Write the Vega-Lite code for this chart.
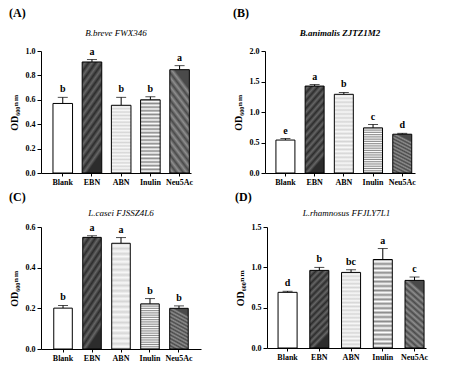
{
"$schema":"https://vega.github.io/schema/vega-lite/v6.json",
"background":"white",
"padding":{"left":9,"top":6,"right":4,"bottom":4},
"config":{
 "font":"Liberation Serif, Times New Roman, DejaVu Serif, serif",
 "view":{"stroke":null},
 "axis":{"labelFont":"Liberation Serif, Times New Roman, DejaVu Serif, serif","labelFontWeight":"bold","labelFontSize":8,"labelColor":"#000","domainColor":"#000","tickColor":"#000","grid":false,"titleFont":"Liberation Serif, Times New Roman, DejaVu Serif, serif","titleFontWeight":"bold","titleFontSize":10,"titleColor":"#000"},
 "axisX":{"ticks":true,"tickSize":3,"labelAngle":0,"labelPadding":2},
 "axisY":{"tickSize":4,"labelPadding":2,"titlePadding":6},
 "title":{"font":"Liberation Serif, Times New Roman, DejaVu Serif, serif","color":"#000"},
 "text":{"font":"Liberation Serif, Times New Roman, DejaVu Serif, serif"}
},
"datasets":{"d":[
 {"panel":"A","group":"Blank","mean":0.57,"upper":0.62,"letter":"b"},
 {"panel":"A","group":"EBN","mean":0.91,"upper":0.93,"letter":"a"},
 {"panel":"A","group":"ABN","mean":0.555,"upper":0.62,"letter":"b"},
 {"panel":"A","group":"Inulin","mean":0.60,"upper":0.625,"letter":"b"},
 {"panel":"A","group":"Neu5Ac","mean":0.847,"upper":0.88,"letter":"a"},
 {"panel":"B","group":"Blank","mean":0.54,"upper":0.565,"letter":"e"},
 {"panel":"B","group":"EBN","mean":1.425,"upper":1.45,"letter":"a"},
 {"panel":"B","group":"ABN","mean":1.29,"upper":1.32,"letter":"b"},
 {"panel":"B","group":"Inulin","mean":0.74,"upper":0.795,"letter":"c"},
 {"panel":"B","group":"Neu5Ac","mean":0.636,"upper":0.65,"letter":"d"},
 {"panel":"C","group":"Blank","mean":0.201,"upper":0.214,"letter":"b"},
 {"panel":"C","group":"EBN","mean":0.549,"upper":0.557,"letter":"a"},
 {"panel":"C","group":"ABN","mean":0.52,"upper":0.548,"letter":"a"},
 {"panel":"C","group":"Inulin","mean":0.222,"upper":0.248,"letter":"b"},
 {"panel":"C","group":"Neu5Ac","mean":0.20,"upper":0.212,"letter":"b"},
 {"panel":"D","group":"Blank","mean":0.69,"upper":0.703,"letter":"d"},
 {"panel":"D","group":"EBN","mean":0.962,"upper":0.999,"letter":"b"},
 {"panel":"D","group":"ABN","mean":0.937,"upper":0.97,"letter":"bc"},
 {"panel":"D","group":"Inulin","mean":1.097,"upper":1.233,"letter":"a"},
 {"panel":"D","group":"Neu5Ac","mean":0.838,"upper":0.88,"letter":"c"}
]},
"spacing":4,
"vconcat":[
{"hconcat":[
 {"title":{"text":"(A)","anchor":"start","frame":"bounds","fontSize":12,"fontWeight":"bold","offset":9},
  "vconcat":[{
   "width":150,"height":122,
   "title":{"text":"B.breve FWX346","fontStyle":"italic","fontWeight":"normal","fontSize":9,"frame":"group","anchor":"middle","offset":9},
   "data":{"name":"d"},
   "transform":[{"filter":"datum.panel==='A'"}],
   "encoding":{
    "x":{"field":"group","type":"nominal","sort":["Blank","EBN","ABN","Inulin","Neu5Ac"],"scale":{"paddingInner":0.33,"paddingOuter":0.233,"align":0.88},"axis":{"title":null}},
    "y":{"field":"mean","type":"quantitative","scale":{"domain":[0,1]},"axis":{"values":[0,0.2,0.4,0.6,0.8,1.0],"format":".1f","title":"OD₆₀₀ₙₘ"}}
   },
   "layer":[
    {"mark":{"type":"rule","color":"black","strokeWidth":1},"encoding":{"y2":{"field":"upper"}}},
    {"mark":{"type":"tick","orient":"horizontal","color":"black","thickness":1,"size":10},"encoding":{"y":{"field":"upper","type":"quantitative"}}},
    {"mark":{"type":"bar","stroke":"black","strokeWidth":1},"encoding":{"fill":{"condition":[
     {"test":"datum.group==='EBN'","value":{"gradient":"linear","x1":0,"y1":0,"x2":0.25,"y2":1,"stops":[{"offset":0,"color":"#2c2c2c"},{"offset":0.0417,"color":"#666666"},{"offset":0.0833,"color":"#2c2c2c"},{"offset":0.125,"color":"#666666"},{"offset":0.1667,"color":"#2c2c2c"},{"offset":0.2083,"color":"#666666"},{"offset":0.25,"color":"#2c2c2c"},{"offset":0.2917,"color":"#666666"},{"offset":0.3333,"color":"#2c2c2c"},{"offset":0.375,"color":"#666666"},{"offset":0.4167,"color":"#2c2c2c"},{"offset":0.4583,"color":"#666666"},{"offset":0.5,"color":"#2c2c2c"},{"offset":0.5417,"color":"#666666"},{"offset":0.5833,"color":"#2c2c2c"},{"offset":0.625,"color":"#666666"},{"offset":0.6667,"color":"#2c2c2c"},{"offset":0.7083,"color":"#666666"},{"offset":0.75,"color":"#2c2c2c"},{"offset":0.7917,"color":"#666666"},{"offset":0.8333,"color":"#2c2c2c"},{"offset":0.875,"color":"#666666"},{"offset":0.9167,"color":"#2c2c2c"},{"offset":0.9583,"color":"#666666"},{"offset":1,"color":"#2c2c2c"}]}},
     {"test":"datum.group==='ABN'","value":{"gradient":"linear","x1":0,"y1":0,"x2":0,"y2":1,"stops":[{"offset":0,"color":"#d6d6d6"},{"offset":0.025,"color":"#f8f8f8"},{"offset":0.05,"color":"#d6d6d6"},{"offset":0.075,"color":"#f8f8f8"},{"offset":0.1,"color":"#d6d6d6"},{"offset":0.125,"color":"#f8f8f8"},{"offset":0.15,"color":"#d6d6d6"},{"offset":0.175,"color":"#f8f8f8"},{"offset":0.2,"color":"#d6d6d6"},{"offset":0.225,"color":"#f8f8f8"},{"offset":0.25,"color":"#d6d6d6"},{"offset":0.275,"color":"#f8f8f8"},{"offset":0.3,"color":"#d6d6d6"},{"offset":0.325,"color":"#f8f8f8"},{"offset":0.35,"color":"#d6d6d6"},{"offset":0.375,"color":"#f8f8f8"},{"offset":0.4,"color":"#d6d6d6"},{"offset":0.425,"color":"#f8f8f8"},{"offset":0.45,"color":"#d6d6d6"},{"offset":0.475,"color":"#f8f8f8"},{"offset":0.5,"color":"#d6d6d6"},{"offset":0.525,"color":"#f8f8f8"},{"offset":0.55,"color":"#d6d6d6"},{"offset":0.575,"color":"#f8f8f8"},{"offset":0.6,"color":"#d6d6d6"},{"offset":0.625,"color":"#f8f8f8"},{"offset":0.65,"color":"#d6d6d6"},{"offset":0.675,"color":"#f8f8f8"},{"offset":0.7,"color":"#d6d6d6"},{"offset":0.725,"color":"#f8f8f8"},{"offset":0.75,"color":"#d6d6d6"},{"offset":0.775,"color":"#f8f8f8"},{"offset":0.8,"color":"#d6d6d6"},{"offset":0.825,"color":"#f8f8f8"},{"offset":0.85,"color":"#d6d6d6"},{"offset":0.875,"color":"#f8f8f8"},{"offset":0.9,"color":"#d6d6d6"},{"offset":0.925,"color":"#f8f8f8"},{"offset":0.95,"color":"#d6d6d6"},{"offset":0.975,"color":"#f8f8f8"},{"offset":1,"color":"#d6d6d6"}]}},
     {"test":"datum.group==='Inulin'","value":{"gradient":"linear","x1":0,"y1":0,"x2":0,"y2":1,"stops":[{"offset":0,"color":"#8a8a8a"},{"offset":0.025,"color":"#ffffff"},{"offset":0.05,"color":"#8a8a8a"},{"offset":0.075,"color":"#ffffff"},{"offset":0.1,"color":"#8a8a8a"},{"offset":0.125,"color":"#ffffff"},{"offset":0.15,"color":"#8a8a8a"},{"offset":0.175,"color":"#ffffff"},{"offset":0.2,"color":"#8a8a8a"},{"offset":0.225,"color":"#ffffff"},{"offset":0.25,"color":"#8a8a8a"},{"offset":0.275,"color":"#ffffff"},{"offset":0.3,"color":"#8a8a8a"},{"offset":0.325,"color":"#ffffff"},{"offset":0.35,"color":"#8a8a8a"},{"offset":0.375,"color":"#ffffff"},{"offset":0.4,"color":"#8a8a8a"},{"offset":0.425,"color":"#ffffff"},{"offset":0.45,"color":"#8a8a8a"},{"offset":0.475,"color":"#ffffff"},{"offset":0.5,"color":"#8a8a8a"},{"offset":0.525,"color":"#ffffff"},{"offset":0.55,"color":"#8a8a8a"},{"offset":0.575,"color":"#ffffff"},{"offset":0.6,"color":"#8a8a8a"},{"offset":0.625,"color":"#ffffff"},{"offset":0.65,"color":"#8a8a8a"},{"offset":0.675,"color":"#ffffff"},{"offset":0.7,"color":"#8a8a8a"},{"offset":0.725,"color":"#ffffff"},{"offset":0.75,"color":"#8a8a8a"},{"offset":0.775,"color":"#ffffff"},{"offset":0.8,"color":"#8a8a8a"},{"offset":0.825,"color":"#ffffff"},{"offset":0.85,"color":"#8a8a8a"},{"offset":0.875,"color":"#ffffff"},{"offset":0.9,"color":"#8a8a8a"},{"offset":0.925,"color":"#ffffff"},{"offset":0.95,"color":"#8a8a8a"},{"offset":0.975,"color":"#ffffff"},{"offset":1,"color":"#8a8a8a"}]}},
     {"test":"datum.group==='Neu5Ac'","value":{"gradient":"linear","x1":0.25,"y1":0,"x2":0,"y2":1,"stops":[{"offset":0,"color":"#4a4a4a"},{"offset":0.0417,"color":"#8e8e8e"},{"offset":0.0833,"color":"#4a4a4a"},{"offset":0.125,"color":"#8e8e8e"},{"offset":0.1667,"color":"#4a4a4a"},{"offset":0.2083,"color":"#8e8e8e"},{"offset":0.25,"color":"#4a4a4a"},{"offset":0.2917,"color":"#8e8e8e"},{"offset":0.3333,"color":"#4a4a4a"},{"offset":0.375,"color":"#8e8e8e"},{"offset":0.4167,"color":"#4a4a4a"},{"offset":0.4583,"color":"#8e8e8e"},{"offset":0.5,"color":"#4a4a4a"},{"offset":0.5417,"color":"#8e8e8e"},{"offset":0.5833,"color":"#4a4a4a"},{"offset":0.625,"color":"#8e8e8e"},{"offset":0.6667,"color":"#4a4a4a"},{"offset":0.7083,"color":"#8e8e8e"},{"offset":0.75,"color":"#4a4a4a"},{"offset":0.7917,"color":"#8e8e8e"},{"offset":0.8333,"color":"#4a4a4a"},{"offset":0.875,"color":"#8e8e8e"},{"offset":0.9167,"color":"#4a4a4a"},{"offset":0.9583,"color":"#8e8e8e"},{"offset":1,"color":"#4a4a4a"}]}}
    ],"value":"#ffffff"}}},
    {"mark":{"type":"text","dy":-8,"fontWeight":"bold","fontSize":10},"encoding":{"y":{"field":"upper","type":"quantitative"},"text":{"field":"letter"}}}
   ]
  }]
 },
 {"title":{"text":"(B)","anchor":"start","frame":"bounds","fontSize":12,"fontWeight":"bold","offset":9},
  "vconcat":[{
   "width":150,"height":122,
   "title":{"text":"B.animalis ZJTZ1M2","fontStyle":"italic","fontWeight":"bold","fontSize":9,"frame":"group","anchor":"middle","offset":9},
   "data":{"name":"d"},
   "transform":[{"filter":"datum.panel==='B'"}],
   "encoding":{
    "x":{"field":"group","type":"nominal","sort":["Blank","EBN","ABN","Inulin","Neu5Ac"],"scale":{"paddingInner":0.35,"paddingOuter":0.243,"align":0.77},"axis":{"title":null}},
    "y":{"field":"mean","type":"quantitative","scale":{"domain":[0,2]},"axis":{"values":[0,0.5,1.0,1.5,2.0],"format":".1f","title":"OD₆₀₀ₙₘ"}}
   },
   "layer":[
    {"mark":{"type":"rule","color":"black","strokeWidth":1},"encoding":{"y2":{"field":"upper"}}},
    {"mark":{"type":"tick","orient":"horizontal","color":"black","thickness":1,"size":10},"encoding":{"y":{"field":"upper","type":"quantitative"}}},
    {"mark":{"type":"bar","stroke":"black","strokeWidth":1},"encoding":{"fill":{"condition":[
     {"test":"datum.group==='EBN'","value":{"gradient":"linear","x1":0,"y1":0,"x2":0.25,"y2":1,"stops":[{"offset":0,"color":"#2c2c2c"},{"offset":0.0417,"color":"#666666"},{"offset":0.0833,"color":"#2c2c2c"},{"offset":0.125,"color":"#666666"},{"offset":0.1667,"color":"#2c2c2c"},{"offset":0.2083,"color":"#666666"},{"offset":0.25,"color":"#2c2c2c"},{"offset":0.2917,"color":"#666666"},{"offset":0.3333,"color":"#2c2c2c"},{"offset":0.375,"color":"#666666"},{"offset":0.4167,"color":"#2c2c2c"},{"offset":0.4583,"color":"#666666"},{"offset":0.5,"color":"#2c2c2c"},{"offset":0.5417,"color":"#666666"},{"offset":0.5833,"color":"#2c2c2c"},{"offset":0.625,"color":"#666666"},{"offset":0.6667,"color":"#2c2c2c"},{"offset":0.7083,"color":"#666666"},{"offset":0.75,"color":"#2c2c2c"},{"offset":0.7917,"color":"#666666"},{"offset":0.8333,"color":"#2c2c2c"},{"offset":0.875,"color":"#666666"},{"offset":0.9167,"color":"#2c2c2c"},{"offset":0.9583,"color":"#666666"},{"offset":1,"color":"#2c2c2c"}]}},
     {"test":"datum.group==='ABN'","value":{"gradient":"linear","x1":0,"y1":0,"x2":0,"y2":1,"stops":[{"offset":0,"color":"#d6d6d6"},{"offset":0.025,"color":"#f8f8f8"},{"offset":0.05,"color":"#d6d6d6"},{"offset":0.075,"color":"#f8f8f8"},{"offset":0.1,"color":"#d6d6d6"},{"offset":0.125,"color":"#f8f8f8"},{"offset":0.15,"color":"#d6d6d6"},{"offset":0.175,"color":"#f8f8f8"},{"offset":0.2,"color":"#d6d6d6"},{"offset":0.225,"color":"#f8f8f8"},{"offset":0.25,"color":"#d6d6d6"},{"offset":0.275,"color":"#f8f8f8"},{"offset":0.3,"color":"#d6d6d6"},{"offset":0.325,"color":"#f8f8f8"},{"offset":0.35,"color":"#d6d6d6"},{"offset":0.375,"color":"#f8f8f8"},{"offset":0.4,"color":"#d6d6d6"},{"offset":0.425,"color":"#f8f8f8"},{"offset":0.45,"color":"#d6d6d6"},{"offset":0.475,"color":"#f8f8f8"},{"offset":0.5,"color":"#d6d6d6"},{"offset":0.525,"color":"#f8f8f8"},{"offset":0.55,"color":"#d6d6d6"},{"offset":0.575,"color":"#f8f8f8"},{"offset":0.6,"color":"#d6d6d6"},{"offset":0.625,"color":"#f8f8f8"},{"offset":0.65,"color":"#d6d6d6"},{"offset":0.675,"color":"#f8f8f8"},{"offset":0.7,"color":"#d6d6d6"},{"offset":0.725,"color":"#f8f8f8"},{"offset":0.75,"color":"#d6d6d6"},{"offset":0.775,"color":"#f8f8f8"},{"offset":0.8,"color":"#d6d6d6"},{"offset":0.825,"color":"#f8f8f8"},{"offset":0.85,"color":"#d6d6d6"},{"offset":0.875,"color":"#f8f8f8"},{"offset":0.9,"color":"#d6d6d6"},{"offset":0.925,"color":"#f8f8f8"},{"offset":0.95,"color":"#d6d6d6"},{"offset":0.975,"color":"#f8f8f8"},{"offset":1,"color":"#d6d6d6"}]}},
     {"test":"datum.group==='Inulin'","value":{"gradient":"linear","x1":0,"y1":0,"x2":0,"y2":1,"stops":[{"offset":0,"color":"#8a8a8a"},{"offset":0.025,"color":"#ffffff"},{"offset":0.05,"color":"#8a8a8a"},{"offset":0.075,"color":"#ffffff"},{"offset":0.1,"color":"#8a8a8a"},{"offset":0.125,"color":"#ffffff"},{"offset":0.15,"color":"#8a8a8a"},{"offset":0.175,"color":"#ffffff"},{"offset":0.2,"color":"#8a8a8a"},{"offset":0.225,"color":"#ffffff"},{"offset":0.25,"color":"#8a8a8a"},{"offset":0.275,"color":"#ffffff"},{"offset":0.3,"color":"#8a8a8a"},{"offset":0.325,"color":"#ffffff"},{"offset":0.35,"color":"#8a8a8a"},{"offset":0.375,"color":"#ffffff"},{"offset":0.4,"color":"#8a8a8a"},{"offset":0.425,"color":"#ffffff"},{"offset":0.45,"color":"#8a8a8a"},{"offset":0.475,"color":"#ffffff"},{"offset":0.5,"color":"#8a8a8a"},{"offset":0.525,"color":"#ffffff"},{"offset":0.55,"color":"#8a8a8a"},{"offset":0.575,"color":"#ffffff"},{"offset":0.6,"color":"#8a8a8a"},{"offset":0.625,"color":"#ffffff"},{"offset":0.65,"color":"#8a8a8a"},{"offset":0.675,"color":"#ffffff"},{"offset":0.7,"color":"#8a8a8a"},{"offset":0.725,"color":"#ffffff"},{"offset":0.75,"color":"#8a8a8a"},{"offset":0.775,"color":"#ffffff"},{"offset":0.8,"color":"#8a8a8a"},{"offset":0.825,"color":"#ffffff"},{"offset":0.85,"color":"#8a8a8a"},{"offset":0.875,"color":"#ffffff"},{"offset":0.9,"color":"#8a8a8a"},{"offset":0.925,"color":"#ffffff"},{"offset":0.95,"color":"#8a8a8a"},{"offset":0.975,"color":"#ffffff"},{"offset":1,"color":"#8a8a8a"}]}},
     {"test":"datum.group==='Neu5Ac'","value":{"gradient":"linear","x1":0.25,"y1":0,"x2":0,"y2":1,"stops":[{"offset":0,"color":"#4a4a4a"},{"offset":0.0417,"color":"#8e8e8e"},{"offset":0.0833,"color":"#4a4a4a"},{"offset":0.125,"color":"#8e8e8e"},{"offset":0.1667,"color":"#4a4a4a"},{"offset":0.2083,"color":"#8e8e8e"},{"offset":0.25,"color":"#4a4a4a"},{"offset":0.2917,"color":"#8e8e8e"},{"offset":0.3333,"color":"#4a4a4a"},{"offset":0.375,"color":"#8e8e8e"},{"offset":0.4167,"color":"#4a4a4a"},{"offset":0.4583,"color":"#8e8e8e"},{"offset":0.5,"color":"#4a4a4a"},{"offset":0.5417,"color":"#8e8e8e"},{"offset":0.5833,"color":"#4a4a4a"},{"offset":0.625,"color":"#8e8e8e"},{"offset":0.6667,"color":"#4a4a4a"},{"offset":0.7083,"color":"#8e8e8e"},{"offset":0.75,"color":"#4a4a4a"},{"offset":0.7917,"color":"#8e8e8e"},{"offset":0.8333,"color":"#4a4a4a"},{"offset":0.875,"color":"#8e8e8e"},{"offset":0.9167,"color":"#4a4a4a"},{"offset":0.9583,"color":"#8e8e8e"},{"offset":1,"color":"#4a4a4a"}]}}
    ],"value":"#ffffff"}}},
    {"mark":{"type":"text","dy":-8,"fontWeight":"bold","fontSize":10},"encoding":{"y":{"field":"upper","type":"quantitative"},"text":{"field":"letter"}}}
   ]
  }]
 }
],"spacing":40},
{"hconcat":[
 {"title":{"text":"(C)","anchor":"start","frame":"bounds","fontSize":12,"fontWeight":"bold","offset":5},
  "vconcat":[{
   "width":160,"height":122,
   "title":{"text":"L.casei FJSSZ4L6","fontStyle":"italic","fontWeight":"normal","fontSize":9,"frame":"group","anchor":"middle","offset":5},
   "data":{"name":"d"},
   "transform":[{"filter":"datum.panel==='C'"}],
   "encoding":{
    "x":{"field":"group","type":"nominal","sort":["Blank","EBN","ABN","Inulin","Neu5Ac"],"scale":{"paddingInner":0.36,"paddingOuter":0.44,"align":0.5},"axis":{"title":null}},
    "y":{"field":"mean","type":"quantitative","scale":{"domain":[0,0.6]},"axis":{"values":[0,0.2,0.4,0.6],"format":".1f","title":"OD₆₀₀ₙₘ"}}
   },
   "layer":[
    {"mark":{"type":"rule","color":"black","strokeWidth":1},"encoding":{"y2":{"field":"upper"}}},
    {"mark":{"type":"tick","orient":"horizontal","color":"black","thickness":1,"size":10},"encoding":{"y":{"field":"upper","type":"quantitative"}}},
    {"mark":{"type":"bar","stroke":"black","strokeWidth":1},"encoding":{"fill":{"condition":[
     {"test":"datum.group==='EBN'","value":{"gradient":"linear","x1":0,"y1":0,"x2":0.25,"y2":1,"stops":[{"offset":0,"color":"#2c2c2c"},{"offset":0.0417,"color":"#666666"},{"offset":0.0833,"color":"#2c2c2c"},{"offset":0.125,"color":"#666666"},{"offset":0.1667,"color":"#2c2c2c"},{"offset":0.2083,"color":"#666666"},{"offset":0.25,"color":"#2c2c2c"},{"offset":0.2917,"color":"#666666"},{"offset":0.3333,"color":"#2c2c2c"},{"offset":0.375,"color":"#666666"},{"offset":0.4167,"color":"#2c2c2c"},{"offset":0.4583,"color":"#666666"},{"offset":0.5,"color":"#2c2c2c"},{"offset":0.5417,"color":"#666666"},{"offset":0.5833,"color":"#2c2c2c"},{"offset":0.625,"color":"#666666"},{"offset":0.6667,"color":"#2c2c2c"},{"offset":0.7083,"color":"#666666"},{"offset":0.75,"color":"#2c2c2c"},{"offset":0.7917,"color":"#666666"},{"offset":0.8333,"color":"#2c2c2c"},{"offset":0.875,"color":"#666666"},{"offset":0.9167,"color":"#2c2c2c"},{"offset":0.9583,"color":"#666666"},{"offset":1,"color":"#2c2c2c"}]}},
     {"test":"datum.group==='ABN'","value":{"gradient":"linear","x1":0,"y1":0,"x2":0,"y2":1,"stops":[{"offset":0,"color":"#d6d6d6"},{"offset":0.025,"color":"#f8f8f8"},{"offset":0.05,"color":"#d6d6d6"},{"offset":0.075,"color":"#f8f8f8"},{"offset":0.1,"color":"#d6d6d6"},{"offset":0.125,"color":"#f8f8f8"},{"offset":0.15,"color":"#d6d6d6"},{"offset":0.175,"color":"#f8f8f8"},{"offset":0.2,"color":"#d6d6d6"},{"offset":0.225,"color":"#f8f8f8"},{"offset":0.25,"color":"#d6d6d6"},{"offset":0.275,"color":"#f8f8f8"},{"offset":0.3,"color":"#d6d6d6"},{"offset":0.325,"color":"#f8f8f8"},{"offset":0.35,"color":"#d6d6d6"},{"offset":0.375,"color":"#f8f8f8"},{"offset":0.4,"color":"#d6d6d6"},{"offset":0.425,"color":"#f8f8f8"},{"offset":0.45,"color":"#d6d6d6"},{"offset":0.475,"color":"#f8f8f8"},{"offset":0.5,"color":"#d6d6d6"},{"offset":0.525,"color":"#f8f8f8"},{"offset":0.55,"color":"#d6d6d6"},{"offset":0.575,"color":"#f8f8f8"},{"offset":0.6,"color":"#d6d6d6"},{"offset":0.625,"color":"#f8f8f8"},{"offset":0.65,"color":"#d6d6d6"},{"offset":0.675,"color":"#f8f8f8"},{"offset":0.7,"color":"#d6d6d6"},{"offset":0.725,"color":"#f8f8f8"},{"offset":0.75,"color":"#d6d6d6"},{"offset":0.775,"color":"#f8f8f8"},{"offset":0.8,"color":"#d6d6d6"},{"offset":0.825,"color":"#f8f8f8"},{"offset":0.85,"color":"#d6d6d6"},{"offset":0.875,"color":"#f8f8f8"},{"offset":0.9,"color":"#d6d6d6"},{"offset":0.925,"color":"#f8f8f8"},{"offset":0.95,"color":"#d6d6d6"},{"offset":0.975,"color":"#f8f8f8"},{"offset":1,"color":"#d6d6d6"}]}},
     {"test":"datum.group==='Inulin'","value":{"gradient":"linear","x1":0,"y1":0,"x2":0,"y2":1,"stops":[{"offset":0,"color":"#8a8a8a"},{"offset":0.025,"color":"#ffffff"},{"offset":0.05,"color":"#8a8a8a"},{"offset":0.075,"color":"#ffffff"},{"offset":0.1,"color":"#8a8a8a"},{"offset":0.125,"color":"#ffffff"},{"offset":0.15,"color":"#8a8a8a"},{"offset":0.175,"color":"#ffffff"},{"offset":0.2,"color":"#8a8a8a"},{"offset":0.225,"color":"#ffffff"},{"offset":0.25,"color":"#8a8a8a"},{"offset":0.275,"color":"#ffffff"},{"offset":0.3,"color":"#8a8a8a"},{"offset":0.325,"color":"#ffffff"},{"offset":0.35,"color":"#8a8a8a"},{"offset":0.375,"color":"#ffffff"},{"offset":0.4,"color":"#8a8a8a"},{"offset":0.425,"color":"#ffffff"},{"offset":0.45,"color":"#8a8a8a"},{"offset":0.475,"color":"#ffffff"},{"offset":0.5,"color":"#8a8a8a"},{"offset":0.525,"color":"#ffffff"},{"offset":0.55,"color":"#8a8a8a"},{"offset":0.575,"color":"#ffffff"},{"offset":0.6,"color":"#8a8a8a"},{"offset":0.625,"color":"#ffffff"},{"offset":0.65,"color":"#8a8a8a"},{"offset":0.675,"color":"#ffffff"},{"offset":0.7,"color":"#8a8a8a"},{"offset":0.725,"color":"#ffffff"},{"offset":0.75,"color":"#8a8a8a"},{"offset":0.775,"color":"#ffffff"},{"offset":0.8,"color":"#8a8a8a"},{"offset":0.825,"color":"#ffffff"},{"offset":0.85,"color":"#8a8a8a"},{"offset":0.875,"color":"#ffffff"},{"offset":0.9,"color":"#8a8a8a"},{"offset":0.925,"color":"#ffffff"},{"offset":0.95,"color":"#8a8a8a"},{"offset":0.975,"color":"#ffffff"},{"offset":1,"color":"#8a8a8a"}]}},
     {"test":"datum.group==='Neu5Ac'","value":{"gradient":"linear","x1":0.25,"y1":0,"x2":0,"y2":1,"stops":[{"offset":0,"color":"#4a4a4a"},{"offset":0.0417,"color":"#8e8e8e"},{"offset":0.0833,"color":"#4a4a4a"},{"offset":0.125,"color":"#8e8e8e"},{"offset":0.1667,"color":"#4a4a4a"},{"offset":0.2083,"color":"#8e8e8e"},{"offset":0.25,"color":"#4a4a4a"},{"offset":0.2917,"color":"#8e8e8e"},{"offset":0.3333,"color":"#4a4a4a"},{"offset":0.375,"color":"#8e8e8e"},{"offset":0.4167,"color":"#4a4a4a"},{"offset":0.4583,"color":"#8e8e8e"},{"offset":0.5,"color":"#4a4a4a"},{"offset":0.5417,"color":"#8e8e8e"},{"offset":0.5833,"color":"#4a4a4a"},{"offset":0.625,"color":"#8e8e8e"},{"offset":0.6667,"color":"#4a4a4a"},{"offset":0.7083,"color":"#8e8e8e"},{"offset":0.75,"color":"#4a4a4a"},{"offset":0.7917,"color":"#8e8e8e"},{"offset":0.8333,"color":"#4a4a4a"},{"offset":0.875,"color":"#8e8e8e"},{"offset":0.9167,"color":"#4a4a4a"},{"offset":0.9583,"color":"#8e8e8e"},{"offset":1,"color":"#4a4a4a"}]}}
    ],"value":"#ffffff"}}},
    {"mark":{"type":"text","dy":-8,"fontWeight":"bold","fontSize":10},"encoding":{"y":{"field":"upper","type":"quantitative"},"text":{"field":"letter"}}}
   ]
  }]
 },
 {"title":{"text":"(D)","anchor":"start","frame":"bounds","fontSize":12,"fontWeight":"bold","offset":5},
  "vconcat":[{
   "width":159,"height":121,
   "title":{"text":"L.rhamnosus FFJLY7L1","fontStyle":"italic","fontWeight":"normal","fontSize":9,"frame":"group","anchor":"middle","offset":5},
   "data":{"name":"d"},
   "transform":[{"filter":"datum.panel==='D'"}],
   "encoding":{
    "x":{"field":"group","type":"nominal","sort":["Blank","EBN","ABN","Inulin","Neu5Ac"],"scale":{"paddingInner":0.4,"paddingOuter":0.205,"align":0.85},"axis":{"title":null}},
    "y":{"field":"mean","type":"quantitative","scale":{"domain":[0,1.5]},"axis":{"values":[0,0.5,1.0,1.5],"format":".1f","title":"OD₆₀₀ₙₘ"}}
   },
   "layer":[
    {"mark":{"type":"rule","color":"black","strokeWidth":1},"encoding":{"y2":{"field":"upper"}}},
    {"mark":{"type":"tick","orient":"horizontal","color":"black","thickness":1,"size":10},"encoding":{"y":{"field":"upper","type":"quantitative"}}},
    {"mark":{"type":"bar","stroke":"black","strokeWidth":1},"encoding":{"fill":{"condition":[
     {"test":"datum.group==='EBN'","value":{"gradient":"linear","x1":0,"y1":0,"x2":0.25,"y2":1,"stops":[{"offset":0,"color":"#2c2c2c"},{"offset":0.0417,"color":"#666666"},{"offset":0.0833,"color":"#2c2c2c"},{"offset":0.125,"color":"#666666"},{"offset":0.1667,"color":"#2c2c2c"},{"offset":0.2083,"color":"#666666"},{"offset":0.25,"color":"#2c2c2c"},{"offset":0.2917,"color":"#666666"},{"offset":0.3333,"color":"#2c2c2c"},{"offset":0.375,"color":"#666666"},{"offset":0.4167,"color":"#2c2c2c"},{"offset":0.4583,"color":"#666666"},{"offset":0.5,"color":"#2c2c2c"},{"offset":0.5417,"color":"#666666"},{"offset":0.5833,"color":"#2c2c2c"},{"offset":0.625,"color":"#666666"},{"offset":0.6667,"color":"#2c2c2c"},{"offset":0.7083,"color":"#666666"},{"offset":0.75,"color":"#2c2c2c"},{"offset":0.7917,"color":"#666666"},{"offset":0.8333,"color":"#2c2c2c"},{"offset":0.875,"color":"#666666"},{"offset":0.9167,"color":"#2c2c2c"},{"offset":0.9583,"color":"#666666"},{"offset":1,"color":"#2c2c2c"}]}},
     {"test":"datum.group==='ABN'","value":{"gradient":"linear","x1":0,"y1":0,"x2":0,"y2":1,"stops":[{"offset":0,"color":"#d6d6d6"},{"offset":0.025,"color":"#f8f8f8"},{"offset":0.05,"color":"#d6d6d6"},{"offset":0.075,"color":"#f8f8f8"},{"offset":0.1,"color":"#d6d6d6"},{"offset":0.125,"color":"#f8f8f8"},{"offset":0.15,"color":"#d6d6d6"},{"offset":0.175,"color":"#f8f8f8"},{"offset":0.2,"color":"#d6d6d6"},{"offset":0.225,"color":"#f8f8f8"},{"offset":0.25,"color":"#d6d6d6"},{"offset":0.275,"color":"#f8f8f8"},{"offset":0.3,"color":"#d6d6d6"},{"offset":0.325,"color":"#f8f8f8"},{"offset":0.35,"color":"#d6d6d6"},{"offset":0.375,"color":"#f8f8f8"},{"offset":0.4,"color":"#d6d6d6"},{"offset":0.425,"color":"#f8f8f8"},{"offset":0.45,"color":"#d6d6d6"},{"offset":0.475,"color":"#f8f8f8"},{"offset":0.5,"color":"#d6d6d6"},{"offset":0.525,"color":"#f8f8f8"},{"offset":0.55,"color":"#d6d6d6"},{"offset":0.575,"color":"#f8f8f8"},{"offset":0.6,"color":"#d6d6d6"},{"offset":0.625,"color":"#f8f8f8"},{"offset":0.65,"color":"#d6d6d6"},{"offset":0.675,"color":"#f8f8f8"},{"offset":0.7,"color":"#d6d6d6"},{"offset":0.725,"color":"#f8f8f8"},{"offset":0.75,"color":"#d6d6d6"},{"offset":0.775,"color":"#f8f8f8"},{"offset":0.8,"color":"#d6d6d6"},{"offset":0.825,"color":"#f8f8f8"},{"offset":0.85,"color":"#d6d6d6"},{"offset":0.875,"color":"#f8f8f8"},{"offset":0.9,"color":"#d6d6d6"},{"offset":0.925,"color":"#f8f8f8"},{"offset":0.95,"color":"#d6d6d6"},{"offset":0.975,"color":"#f8f8f8"},{"offset":1,"color":"#d6d6d6"}]}},
     {"test":"datum.group==='Inulin'","value":{"gradient":"linear","x1":0,"y1":0,"x2":0,"y2":1,"stops":[{"offset":0,"color":"#8a8a8a"},{"offset":0.025,"color":"#ffffff"},{"offset":0.05,"color":"#8a8a8a"},{"offset":0.075,"color":"#ffffff"},{"offset":0.1,"color":"#8a8a8a"},{"offset":0.125,"color":"#ffffff"},{"offset":0.15,"color":"#8a8a8a"},{"offset":0.175,"color":"#ffffff"},{"offset":0.2,"color":"#8a8a8a"},{"offset":0.225,"color":"#ffffff"},{"offset":0.25,"color":"#8a8a8a"},{"offset":0.275,"color":"#ffffff"},{"offset":0.3,"color":"#8a8a8a"},{"offset":0.325,"color":"#ffffff"},{"offset":0.35,"color":"#8a8a8a"},{"offset":0.375,"color":"#ffffff"},{"offset":0.4,"color":"#8a8a8a"},{"offset":0.425,"color":"#ffffff"},{"offset":0.45,"color":"#8a8a8a"},{"offset":0.475,"color":"#ffffff"},{"offset":0.5,"color":"#8a8a8a"},{"offset":0.525,"color":"#ffffff"},{"offset":0.55,"color":"#8a8a8a"},{"offset":0.575,"color":"#ffffff"},{"offset":0.6,"color":"#8a8a8a"},{"offset":0.625,"color":"#ffffff"},{"offset":0.65,"color":"#8a8a8a"},{"offset":0.675,"color":"#ffffff"},{"offset":0.7,"color":"#8a8a8a"},{"offset":0.725,"color":"#ffffff"},{"offset":0.75,"color":"#8a8a8a"},{"offset":0.775,"color":"#ffffff"},{"offset":0.8,"color":"#8a8a8a"},{"offset":0.825,"color":"#ffffff"},{"offset":0.85,"color":"#8a8a8a"},{"offset":0.875,"color":"#ffffff"},{"offset":0.9,"color":"#8a8a8a"},{"offset":0.925,"color":"#ffffff"},{"offset":0.95,"color":"#8a8a8a"},{"offset":0.975,"color":"#ffffff"},{"offset":1,"color":"#8a8a8a"}]}},
     {"test":"datum.group==='Neu5Ac'","value":{"gradient":"linear","x1":0.25,"y1":0,"x2":0,"y2":1,"stops":[{"offset":0,"color":"#4a4a4a"},{"offset":0.0417,"color":"#8e8e8e"},{"offset":0.0833,"color":"#4a4a4a"},{"offset":0.125,"color":"#8e8e8e"},{"offset":0.1667,"color":"#4a4a4a"},{"offset":0.2083,"color":"#8e8e8e"},{"offset":0.25,"color":"#4a4a4a"},{"offset":0.2917,"color":"#8e8e8e"},{"offset":0.3333,"color":"#4a4a4a"},{"offset":0.375,"color":"#8e8e8e"},{"offset":0.4167,"color":"#4a4a4a"},{"offset":0.4583,"color":"#8e8e8e"},{"offset":0.5,"color":"#4a4a4a"},{"offset":0.5417,"color":"#8e8e8e"},{"offset":0.5833,"color":"#4a4a4a"},{"offset":0.625,"color":"#8e8e8e"},{"offset":0.6667,"color":"#4a4a4a"},{"offset":0.7083,"color":"#8e8e8e"},{"offset":0.75,"color":"#4a4a4a"},{"offset":0.7917,"color":"#8e8e8e"},{"offset":0.8333,"color":"#4a4a4a"},{"offset":0.875,"color":"#8e8e8e"},{"offset":0.9167,"color":"#4a4a4a"},{"offset":0.9583,"color":"#8e8e8e"},{"offset":1,"color":"#4a4a4a"}]}}
    ],"value":"#ffffff"}}},
    {"mark":{"type":"text","dy":-8,"fontWeight":"bold","fontSize":10},"encoding":{"y":{"field":"upper","type":"quantitative"},"text":{"field":"letter"}}}
   ]
  }]
 }
],"spacing":34}
]
}
